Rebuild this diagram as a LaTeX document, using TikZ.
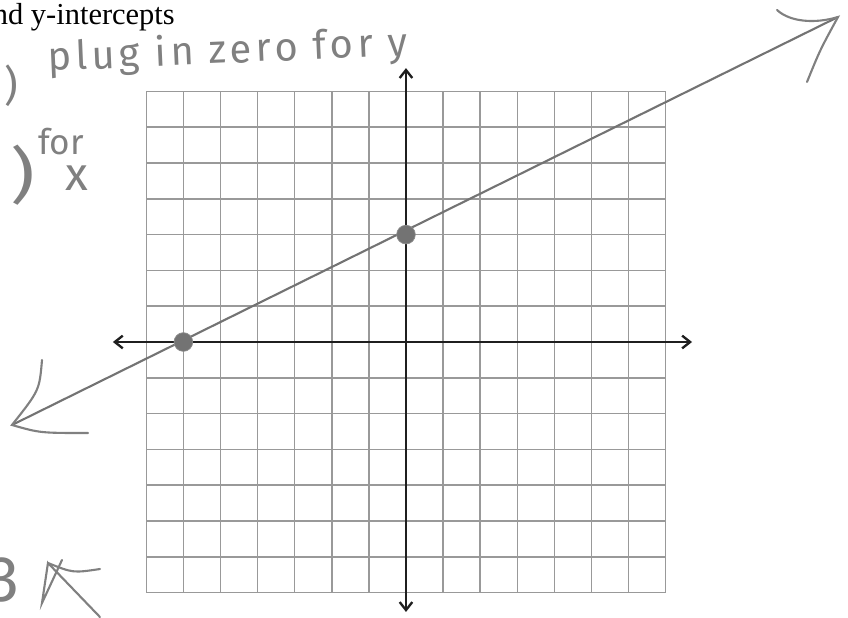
\documentclass[tikz,border=0pt]{standalone}
\usepackage{fontspec}
\setmainfont{Liberation Serif}
\newfontfamily\handfont{Fira Sans}
\usepackage{tikz}
\usetikzlibrary{arrows.meta}

\begin{document}
\begin{tikzpicture}[
  x=1.113cm,y=1.074cm,
  gridline/.style={draw=black!40,line width=1.3pt},
  axis/.style={{Straight Barb[length=2.4mm,width=3.8mm]}-{Straight Barb[length=2.4mm,width=3.8mm]},
               line width=2pt,draw=black!88},
  trend/.style={draw=black!55,line width=1.8pt},
  stroke/.style={draw=black!50,line width=1.8pt,line cap=round},
  dot/.style={circle,fill=black!55,draw=black!45,line width=0.6pt,minimum size=5.6mm,inner sep=0pt},
  hand/.style={text=black!50,inner sep=0pt}
]
\useasboundingbox (-10.943,-7.709) rectangle (11.914,9.553);
\foreach \i in {-7,...,7} {
  \draw[gridline] (\i,-7) -- (\i,7);
  \draw[gridline] (-7,\i) -- (7,\i);
}
\coordinate (xl) at (-7.9,0);
\coordinate (xr) at (7.71,0);
\coordinate (yt) at (0,7.65);
\coordinate (yb) at (0,-7.54);
\draw[axis] (xl) -- (xr);
\draw[axis] (yb) -- (yt);
\coordinate (tipA) at (-10.62,-2.318);
\coordinate (tipB) at (11.644,9.078);
\draw[trend] (tipA) -- (tipB);
\node[dot] (xint) at (-6,0) {};
\node[dot] (yint) at (0,3) {};
\draw[stroke] (-9.811,-0.503) .. controls (-9.88,-1.35) .. (tipA)
  .. controls (-9.865,-2.542) .. (-8.571,-2.542);
\draw[stroke] (10.0,9.274) .. controls (10.350,8.939) and (11.024,8.883) .. (tipB)
  .. controls (11.159,8.156) .. (10.809,7.263);
\node[anchor=base east,inner sep=0pt,font=\fontsize{26}{30}\selectfont] (title)
  at (-6.226,8.855) {nd y-intercepts};
\node[hand,anchor=base west,rotate=2.5,font=\handfont\addfontfeatures{LetterSpace=11}\fontsize{34}{38}\selectfont] (plughint)
  at (-9.650,7.57) {plug in zero for y};
\node[hand,font=\handfont\fontsize{36}{40}\selectfont] (parenA) at (-10.647,7.151) {)};
\node[hand,font=\handfont\fontsize{52}{56}\selectfont] (parenB) at (-10.323,4.665) {\scalebox{1.25}[1]{)}};
\node[hand,font=\handfont\fontsize{30}{34}\selectfont] (forx) at (-9.299,5.600) {for};
\node[hand,font=\handfont\fontsize{40}{44}\selectfont] (xmark) at (-8.868,4.580) {x};
\node[hand,anchor=east,font=\handfont\fontsize{55}{60}\selectfont] (three) at (-10.404,-6.648) {3};
\coordinate (tipC) at (-9.650,-6.173);
\draw[stroke] (-8.248,-7.682) -- (tipC) -- (-9.811,-7.291) -- (-9.272,-6.089);
\draw[stroke] (tipC) .. controls (-8.976,-6.453) .. (-8.248,-6.341);
\end{tikzpicture}
\end{document}
